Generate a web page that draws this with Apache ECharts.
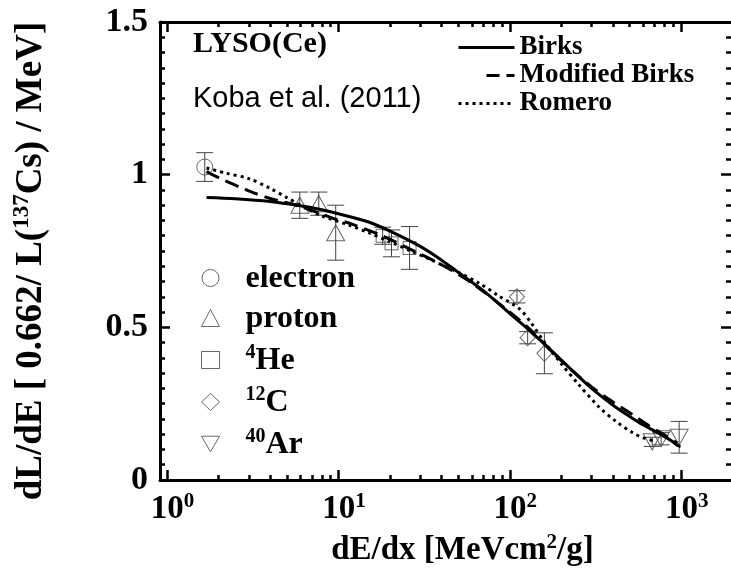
<!DOCTYPE html>
<html><head><meta charset="utf-8">
<script src="https://cdn.jsdelivr.net/npm/echarts@6/dist/echarts.min.js"></script>
<style>html,body{margin:0;padding:0;background:#fff}#c{width:731px;height:572px}</style>
</head><body><div id="c"></div>
<script>
// ---- data ----
const xMajorTicks = [1, 10, 100, 1000];
const xMinorTicks = [2,3,4,5,6,7,8,9,20,30,40,50,60,70,80,90,200,300,400,500,600,700,800,900];
const xMin = 0.91, xMax = 1950;

const birks = [[1.7,0.925],[2.5,0.921],[4,0.912],[6,0.898],[8,0.885],[10,0.872],[15,0.845],[20,0.815],[30,0.765],[40,0.72],[50,0.68],[70,0.62],[100,0.545],[130,0.49],[170,0.43],[220,0.37],[300,0.30],[400,0.245],[500,0.208],[600,0.18],[700,0.16],[800,0.142],[880,0.128],[950,0.113],[990,0.11]];
const modBirks = [[1.7,1.01],[2,0.99],[3,0.947],[4,0.922],[6,0.896],[9.3,0.857],[12,0.838],[18,0.80],[26,0.757],[40,0.705],[60,0.645],[100,0.55],[130,0.495],[200,0.39],[300,0.305],[400,0.255],[500,0.22],[650,0.177],[800,0.147],[950,0.12]];
const romero = [[1.7,1.022],[2.2,1.005],[3,0.987],[4,0.955],[5,0.925],[6,0.9],[8,0.865],[11.5,0.835],[15,0.81],[20,0.78],[26,0.752],[35,0.72],[50,0.68],[66,0.645],[85,0.605],[114,0.56],[135,0.51],[155,0.46],[200,0.38],[250,0.315],[330,0.24],[420,0.19],[520,0.155],[600,0.138],[700,0.128]];

const electronX = [1.66], electronY = [1.025], electronErr = [0.047];
const protonX = [5.95, 7.68, 9.64], protonY = [0.90, 0.905, 0.81], protonErr = [0.043, 0.038, 0.09];
const heX = [18.1, 20.4, 26], heY = [0.80, 0.775, 0.76], heErr = [0.028, 0.044, 0.07];
const cX = [110, 127, 159], cY = [0.60, 0.466, 0.415], cErr = [0.02, 0.02, 0.067];
const arX = [677, 763, 972], arY = [0.125, 0.135, 0.14], arErr = [0.015, 0.02, 0.052];

const curveNames = ['Birks', 'Modified Birks', 'Romero'];
const particleNames = ['electron', 'proton', '4He', '12C', '40Ar'];

// ---- styles ----
const serif = 'Liberation Serif';
const markColor = '#444';
function rich(size, supSize) {
  return {
    b: {fontFamily: serif, fontWeight: 'bold', fontSize: size, color: '#000', lineHeight: size + 2, verticalAlign: 'bottom'},
    s: {fontFamily: serif, fontWeight: 'bold', fontSize: supSize, color: '#000', lineHeight: supSize, verticalAlign: 'top'}
  };
}

function errSeries(name, xs, ys, es) {
  return {
    type: 'custom', name: name, xAxisIndex: 0, yAxisIndex: 0, z: 2,
    data: xs.map((x, i) => [x, ys[i] - es[i], ys[i] + es[i]]),
    encode: {x: 0, y: [1, 2]},
    renderItem: function (params, api) {
      const lo = api.coord([api.value(0), api.value(1)]);
      const hi = api.coord([api.value(0), api.value(2)]);
      const w = 8.5;
      const st = {stroke: markColor, lineWidth: 1};
      return {type: 'group', children: [
        {type: 'line', shape: {x1: lo[0], y1: lo[1], x2: hi[0], y2: hi[1]}, style: st},
        {type: 'line', shape: {x1: lo[0] - w, y1: lo[1], x2: lo[0] + w, y2: lo[1]}, style: st},
        {type: 'line', shape: {x1: hi[0] - w, y1: hi[1], x2: hi[0] + w, y2: hi[1]}, style: st}
      ]};
    }
  };
}
function markSeries(name, xs, ys, symbol, size) {
  return {
    type: 'scatter', name: name, xAxisIndex: 0, yAxisIndex: 0, z: 3,
    data: xs.map((x, i) => [x, ys[i]]),
    symbol: symbol, symbolSize: size,
    itemStyle: {color: 'rgba(0,0,0,0)', borderColor: markColor, borderWidth: 1}
  };
}
const triDown = 'path://M0,0L20,0L10,17.32Z';

function xAxisDef(pos, major) {
  const ax = {
    type: 'log', logBase: 10, min: xMin, max: xMax, position: pos, gridIndex: 0,
    axisLine: {show: major, onZero: false, lineStyle: {color: '#000', width: 3}},
    axisTick: {show: true, inside: true, length: major ? 10 : 5, customValues: major ? xMajorTicks : xMinorTicks,
      lineStyle: {color: '#000', width: 2.5}},
    axisLabel: {show: false},
    splitLine: {show: false}, minorTick: {show: false}
  };
  if (pos === 'bottom' && major) {
    ax.axisLabel = {show: true, customValues: xMajorTicks, margin: 11, padding: [0, 0, 0, 11],
      formatter: function (v) { return '{b|10}{s|' + Math.round(Math.log10(v)) + '}'; }, rich: rich(33, 21)};
    ax.name = '{b|dE/dx [MeVcm}{s|2}{b|/g]}';
    ax.nameLocation = 'middle';
    ax.nameGap = 52;
    ax.nameTextStyle = {rich: rich(33, 21), padding: [0, 0, 0, 34]};
  }
  return ax;
}

const option = {
  animation: false,
  backgroundColor: '#fff',
  grid: {left: 160, right: -1, top: 22, bottom: 91},
  xAxis: [xAxisDef('bottom', true), xAxisDef('bottom', false), xAxisDef('top', true), xAxisDef('top', false)],
  yAxis: [
    {type: 'value', min: 0, max: 1.5, interval: 0.5, position: 'left',
      axisLine: {show: true, onZero: false, lineStyle: {color: '#000', width: 3}},
      axisTick: {show: true, inside: true, length: 10, lineStyle: {color: '#000', width: 2.5}},
      minorTick: {show: true, splitNumber: 10, length: 5, lineStyle: {color: '#000', width: 2.5}},
      splitLine: {show: false},
      axisLabel: {margin: 12, fontFamily: serif, fontWeight: 'bold', fontSize: 34, color: '#000'},
      name: '{b|dL/dE [ 0.662/ L(}{s|137}{b|Cs) / MeV]}',
      nameLocation: 'middle', nameRotate: 90, nameGap: 110,
      nameTextStyle: {rich: rich(37, 23), padding: [0, 20, 0, 0]}
    },
    {type: 'value', min: 0, max: 1.5, interval: 0.5, position: 'right',
      axisLine: {show: false},
      axisTick: {show: true, inside: true, length: 10, lineStyle: {color: '#000', width: 2.5}},
      minorTick: {show: true, splitNumber: 10, length: 5, lineStyle: {color: '#000', width: 2.5}},
      splitLine: {show: false}, axisLabel: {show: false}
    }
  ],
  legend: [
    {data: [
        {name: 'Birks'},
        {name: 'Modified Birks', lineStyle: {type: [0, 28, 13, 7, 14, 10], width: 3}},
        {name: 'Romero'}
      ],
      orient: 'vertical', left: 452, top: 29, itemWidth: 56, itemHeight: 12, itemGap: 1,
      selectedMode: false,
      itemStyle: {color: 'rgba(0,0,0,0)', borderWidth: 0, opacity: 0},
      lineStyle: {width: 3},
      textStyle: {fontFamily: serif, fontWeight: 'bold', fontSize: 27, color: '#000', lineHeight: 27}},
    {data: particleNames, orient: 'vertical', left: 196, top: 258, itemWidth: 18, itemHeight: 17, itemGap: 8,
      selectedMode: false,
      itemStyle: {borderWidth: 1, borderColor: markColor, color: 'rgba(0,0,0,0)'},
      formatter: function (n) {
        const m = n.match(/^(\d+)(.*)$/);
        return m ? '{s|' + m[1] + '}{b|' + m[2] + '}' : '{b|' + n + '}';
      },
      textStyle: {padding: [0, 0, 0, 21], rich: rich(32, 20)}}
  ],
  graphic: [
    {type: 'text', left: 193, top: 29, style: {text: 'LYSO(Ce)', font: 'bold 30px "Liberation Serif"', fill: '#000'}},
    {type: 'text', left: 193, top: 84, style: {text: 'Koba et al. (2011)', font: '29px "Liberation Sans"', fill: '#000'}}
  ],
  series: [
    {type: 'line', name: 'Birks', data: birks, symbol: 'none', smooth: 0.3, z: 4,
      lineStyle: {color: '#000', width: 3, type: 'solid'}, itemStyle: {color: '#000'}},
    {type: 'line', name: 'Modified Birks', data: modBirks, symbol: 'none', smooth: 0.3, z: 4,
      lineStyle: {color: '#000', width: 3, type: [14, 7]}, itemStyle: {color: '#000'}},
    {type: 'line', name: 'Romero', data: romero, symbol: 'none', smooth: 0.3, z: 4,
      lineStyle: {color: '#000', width: 3, type: [3, 4]}, itemStyle: {color: '#000'}},
    errSeries('electron-err', electronX, electronY, electronErr),
    errSeries('proton-err', protonX, protonY, protonErr),
    errSeries('4He-err', heX, heY, heErr),
    errSeries('12C-err', cX, cY, cErr),
    errSeries('40Ar-err', arX, arY, arErr),
    markSeries('electron', electronX, electronY, 'circle', 16),
    markSeries('proton', protonX, protonY, 'triangle', [18, 16]),
    markSeries('4He', heX, heY, 'rect', 13),
    markSeries('12C', cX, cY, 'diamond', [15, 16]),
    markSeries('40Ar', arX, arY, triDown, [18, 16])
  ]
};
const chart = echarts.init(document.getElementById('c'), null, {renderer: 'canvas'});
chart.setOption(option);
</script></body></html>
